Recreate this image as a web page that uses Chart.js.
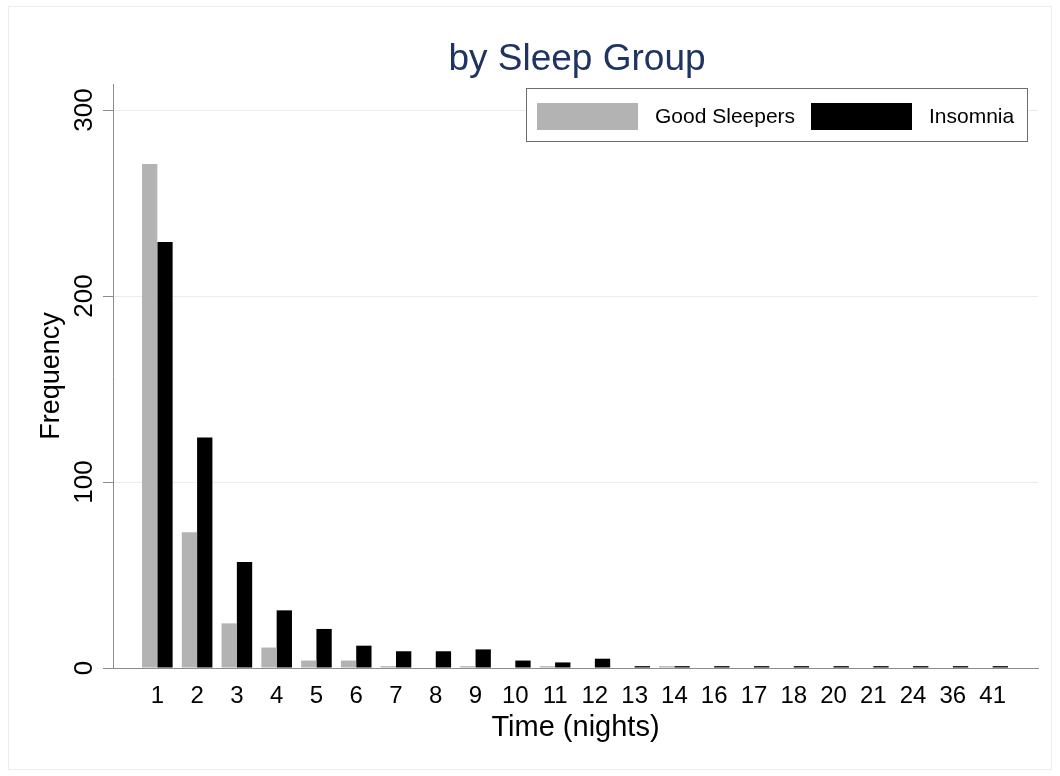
<!DOCTYPE html>
<html>
<head>
<meta charset="utf-8">
<script src="https://cdn.jsdelivr.net/npm/chart.js@4.4.1/dist/chart.umd.min.js"></script>
<style>
html, body { margin: 0; padding: 0; background: #fff; }
</style>
</head>
<body>
<canvas id="chart" width="1060" height="776"></canvas>
<script>
// values
var categories = ['1','2','3','4','5','6','7','8','9','10','11','12','13','14','16','17','18','20','21','24','36','41'];
var goodSleepers = [271, 73, 24, 11, 4, 4, 1, 0, 1, 0, 1, 0, 0, 1, 0, 0, 0, 0, 0, 0, 0, 0];
var insomnia = [229, 124, 57, 31, 21, 12, 9, 9, 10, 4, 3, 5, 1, 1, 1, 1, 1, 1, 1, 1, 1, 1];
var yTicks = [0, 100, 200, 300];

var FONT = "'Liberation Sans', Arial, sans-serif";
var AXIS_GRAY = '#8c8c8c';

function points(values) {
    return values.map(function (v, i) { return { x: i + 1, y: v }; });
}

// frame, title, rotated y labels and boxed legend
var decor = {
    id: 'decor',
    beforeDraw: function (chart) {
        var c = chart.ctx;
        c.save();
        c.fillStyle = '#fff';
        c.fillRect(0, 0, chart.width, chart.height);
        c.strokeStyle = '#e8edf0';
        c.lineWidth = 1;
        c.strokeRect(8.5, 6.5, 1043, 763);
        c.restore();
    },
    afterDraw: function (chart) {
        var c = chart.ctx;
        var area = chart.chartArea;
        c.save();

        // title
        c.fillStyle = '#1f3462';
        c.font = '37px ' + FONT;
        c.textAlign = 'center';
        c.textBaseline = 'alphabetic';
        c.fillText('by Sleep Group', 577, 70);

        // y tick labels, vertical like the original
        var ys = chart.scales.y;
        c.fillStyle = '#000';
        c.font = '26px ' + FONT;
        yTicks.forEach(function (v) {
            c.save();
            c.translate(92, ys.getPixelForValue(v));
            c.rotate(-Math.PI / 2);
            c.fillText(String(v), 0, 0);
            c.restore();
        });

        // legend
        var lx = area.right - 512, ly = area.top + 4;
        c.fillStyle = '#fff';
        c.fillRect(lx, ly, 501, 53);
        c.strokeStyle = '#6e6e6e';
        c.lineWidth = 1;
        c.strokeRect(lx + 0.5, ly + 0.5, 501, 53);
        c.font = '21px ' + FONT;
        c.textAlign = 'left';
        c.textBaseline = 'middle';
        var offsets = [[11, 129], [285, 403]];
        chart.data.datasets.forEach(function (ds, i) {
            c.fillStyle = ds.backgroundColor;
            c.fillRect(lx + offsets[i][0], ly + 15, 101, 27);
            c.fillStyle = '#000';
            c.fillText(ds.label, lx + offsets[i][1], ly + 29);
        });
        c.restore();
    }
};

var ctx = document.getElementById('chart').getContext('2d');
var chart = new Chart(ctx, {
    type: 'bar',
    data: {
        datasets: [{
            label: 'Good Sleepers',
            data: points(goodSleepers),
            backgroundColor: '#b3b3b3',
            borderWidth: 0
        }, {
            label: 'Insomnia',
            data: points(insomnia),
            backgroundColor: '#000000',
            borderWidth: 0
        }]
    },
    options: {
        responsive: false,
        animation: false,
        devicePixelRatio: 1,
        categoryPercentage: 0.77,
        barPercentage: 1.0,
        layout: { padding: { top: 84, right: 22, bottom: 0, left: 0 } },
        plugins: {
            legend: { display: false },
            title: { display: false },
            tooltip: { enabled: false }
        },
        scales: {
            x: {
                type: 'linear',
                offset: false,
                min: -0.114,
                max: 23.14,
                afterFit: function (scale) { scale.height = 108; },
                grid: { display: false, drawTicks: false },
                border: { display: true, color: AXIS_GRAY, width: 1 },
                ticks: {
                    stepSize: 1,
                    includeBounds: false,
                    autoSkip: false,
                    maxRotation: 0,
                    minRotation: 0,
                    padding: 14,
                    color: '#000',
                    font: { family: FONT, size: 24 },
                    callback: function (v) {
                        return categories[v - 1] !== undefined ? categories[v - 1] : '';
                    }
                },
                title: {
                    display: true,
                    text: 'Time (nights)',
                    color: '#000',
                    font: { family: FONT, size: 29 },
                    padding: { top: 0, bottom: 31 }
                }
            },
            y: {
                min: 0,
                max: 314,
                afterFit: function (scale) { scale.width = 113; },
                grid: { color: '#e6eef2', tickColor: AXIS_GRAY, tickLength: 10, drawTicks: true },
                border: { display: true, color: AXIS_GRAY, width: 1 },
                ticks: {
                    stepSize: 100,
                    includeBounds: false,
                    display: false
                },
                title: {
                    display: true,
                    text: 'Frequency',
                    color: '#000',
                    font: { family: FONT, size: 27 },
                    padding: { top: 35, bottom: 0 }
                }
            }
        }
    },
    plugins: [decor]
});
</script>
</body>
</html>
